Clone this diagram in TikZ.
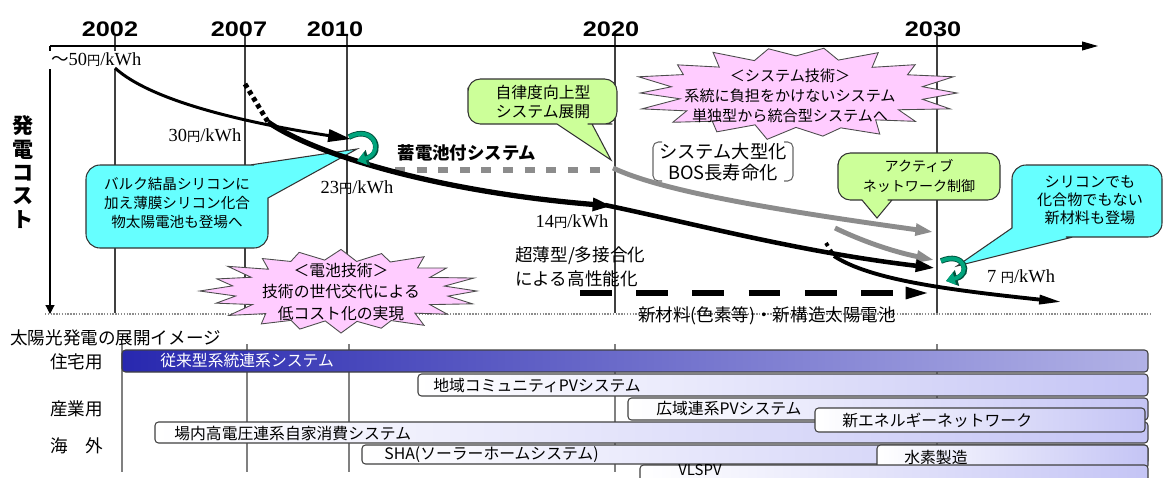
\documentclass[tikz,border=0pt]{standalone}
\usepackage{fontspec}
\usepackage{graphicx}
\setmainfont{Liberation Serif}
\newfontfamily\jp{Noto Sans CJK JP}
\newfontfamily\sansf{Liberation Sans}
\usetikzlibrary{arrows.meta,calc}
\definecolor{cyanC}{RGB}{102,255,255}
\definecolor{greenC}{RGB}{204,255,153}
\definecolor{pinkC}{RGB}{255,204,255}
\definecolor{grayL}{RGB}{140,140,140}
\definecolor{tealC}{RGB}{0,165,125}
\definecolor{tealD}{RGB}{0,80,60}
\definecolor{blueL}{RGB}{40,40,175}
\definecolor{blueR}{RGB}{178,178,230}
\definecolor{lavR}{RGB}{196,196,245}
\begin{document}
\begin{tikzpicture}[x=0.02cm,y=-0.02cm,
  yr/.style={font=\sansf\bfseries\fontsize{12}{14}\selectfont, inner sep=0pt},
  jpt/.style={font=\jp, inner sep=0pt, align=center},
  yen/.style={font=\fontsize{10.5}{12}\selectfont, inner sep=0pt},
  axisln/.style={line width=0.6pt, draw=black},
  yrline/.style={line width=0.7pt, draw=black!75},
  lowline/.style={line width=0.9pt, draw=black!50},
  dotln/.style={line width=0.8pt, draw=black!45, dash pattern=on 0.8pt off 0.8pt},
  callbox/.style={draw=black!80, line width=0.6pt},
  bar/.style={draw=black!75, line width=0.6pt, rounded corners=2pt, left color=white, right color=lavR},
  bartxt/.style={font=\jp\fontsize{9}{10}\selectfont, anchor=west, inner sep=0pt},
  burst/.style={draw=black!70, line width=0.5pt, fill=pinkC},
  curlout/.style={draw=tealD, line width=3.2pt, -{Triangle[length=6.5pt,width=9pt]}},
  curl/.style={draw=tealC, line width=2.2pt, -{Triangle[length=5pt,width=7pt]}},
  blk/.style={draw=black},
  gry/.style={draw=grayL},
]
\useasboundingbox (0,0) rectangle (1165,477);
\clip (0,0) rectangle (1165,477);

% ---------- year labels and grid ----------
\node[yr] (y2002) at (110,29) {\scalebox{1.2}[1]{2002}};
\node[yr] (y2007) at (239,29) {\scalebox{1.2}[1]{2007}};
\node[yr] (y2010) at (335,29) {\scalebox{1.2}[1]{2010}};
\node[yr] (y2020) at (611,29) {\scalebox{1.2}[1]{2020}};
\node[yr] (y2030) at (933,29) {\scalebox{1.2}[1]{2030}};

\foreach \n/\x in {2002/115,2007/245,2010/347,2020/615,2030/937}{
  \coordinate (t\n) at (\x,36);
  \coordinate (b\n) at (\x,313);
  \draw[yrline] (t\n) -- (b\n);
}
\foreach \n/\x in {1/122,2/247,3/349,4/615,5/937}{
  \coordinate (lt\n) at (\x,344);
  \coordinate (lb\n) at (\x,472);
  \draw[lowline] (lt\n) -- (lb\n);
}

\coordinate (O) at (50,46);
\coordinate (xend) at (1098,46);
\coordinate (yend) at (50,314);
\draw[axisln, -{Triangle[length=9pt,width=5pt]}] (O) -- (xend);
\draw[axisln, -{Triangle[length=5pt,width=5pt]}] (O) -- (yend);
\coordinate (dl0) at (45,314);
\coordinate (dl1) at (1151,314);
\draw[dotln] (dl0) -- (dl1);

% ---------- axis texts ----------
\node[jpt, anchor=west, fill=white, inner sep=1pt] (c50) at (49,60)
  {{\jp\fontsize{10}{12}\selectfont ～}{\rmfamily\fontsize{10.5}{12}\selectfont 50}{\jp\fontsize{7.5}{9}\selectfont 円}{\rmfamily\fontsize{10.5}{12}\selectfont /kWh}};
\node[jpt, font=\jp\bfseries\fontsize{12}{13.3}\selectfont] (cost) at (23,172) {発\\電\\コ\\ス\\ト};

% ---------- callouts ----------
\draw[callbox, fill=cyanC, rounded corners=8pt] (86,200) -- (86,165) -- (240,165) [sharp corners] -- (250,165) -- (357,149) -- (268,198) -- (268,205) [rounded corners=8pt] -- (268,248) -- (86,248) -- cycle;
\node[jpt, font=\jp\fontsize{8.3}{11}\selectfont] (bulk) at (177,203) {バルク結晶シリコンに\\加え薄膜シリコン化合\\物太陽電池も登場へ};

\draw[callbox, fill=greenC, rounded corners=7pt] (468,100) -- (468,79) -- (617,79) -- (617,124) -- (600,124) [sharp corners] -- (592,124) -- (611,160) -- (557,124) -- (550,124) [rounded corners=7pt] -- (468,124) -- cycle;
\node[jpt, font=\jp\fontsize{9}{10.8}\selectfont] (jiritsu) at (543,102) {自律度向上型\\システム展開};

\draw[callbox, fill=greenC, rounded corners=7pt] (838,176) -- (838,153) -- (1000,153) -- (1000,200) -- (900,200) [sharp corners] -- (892,200) -- (877,218) -- (862,200) -- (855,200) [rounded corners=7pt] -- (838,200) -- cycle;
\node[jpt, font=\jp\fontsize{8}{11.3}\selectfont] (active) at (919,176) {アクティブ\\ネットワーク制御};

\draw[callbox, fill=cyanC, rounded corners=8pt] (1162,200) -- (1162,237) -- (1080,237) [sharp corners] -- (1073,237) -- (957,266) -- (1012,228) -- (1012,220) [rounded corners=8pt] -- (1012,165) -- (1162,165) -- cycle;
\node[jpt, font=\jp\fontsize{8.6}{10.2}\selectfont] (newmat) at (1090,200) {シリコンでも\\化合物でもない\\新材料も登場};

% bracket box
\draw[line width=0.6pt, draw=black!60, rounded corners=3pt] (662,142) -- (653,142) -- (653,181) -- (662,181);
\draw[line width=0.6pt, draw=black!60, rounded corners=3pt] (784,142) -- (793,142) -- (793,181) -- (784,181);
\node[jpt, font=\jp\fontsize{10.4}{12}\selectfont] (large) at (723,162) {システム大型化\\BOS長寿命化};

% ---------- starbursts ----------
\draw[burst] plot[variable=\k, samples at={0,1,...,35}]
  ({796+166*(isodd(\k) ? (0.75+0.04*cos(\k*53)) : (0.97+0.04*sin(\k*77)))*cos(\k*10)},
   {93+47*(isodd(\k) ? (0.75+0.04*cos(\k*53)) : (0.97+0.04*sin(\k*77)))*sin(\k*10)}) -- cycle;
\node[jpt, font=\jp\fontsize{8.6}{11.3}\selectfont] (systech) at (790,96) {＜システム技術＞\\系統に負担をかけないシステム\\単独型から統合型システムへ};

\draw[burst] plot[variable=\k, samples at={0,1,...,39}]
  ({341+140*(isodd(\k) ? (0.75+0.04*cos(\k*53)) : (0.97+0.04*sin(\k*77)))*cos(\k*9)},
   {291+42*(isodd(\k) ? (0.75+0.04*cos(\k*53)) : (0.97+0.04*sin(\k*77)))*sin(\k*9)}) -- cycle;
\node[jpt, font=\jp\fontsize{9}{12}\selectfont] (celltech) at (341,292) {＜電池技術＞\\技術の世代交代による\\低コスト化の実現};

% ---------- cost curves ----------
\coordinate (a0) at (115,68);  \coordinate (a1) at (351,139);
\coordinate (b0) at (245,84);  \coordinate (b1) at (268,122); \coordinate (b2) at (612,206);
\coordinate (c0) at (605,205); \coordinate (c1) at (935,268);
\coordinate (d0) at (826,243); \coordinate (d1) at (834,256); \coordinate (d2) at (1062,302);
\coordinate (e0) at (395,170); \coordinate (e1) at (607,170);
\coordinate (f0) at (613,168); \coordinate (f1) at (933,232);
\coordinate (g0) at (835,228); \coordinate (g1) at (934,260);
\coordinate (h0) at (580,293); \coordinate (h1) at (932,293);

\draw[gry, line width=3.4pt, dash pattern=on 5.7pt off 6.6pt] (e0) -- (e1);
\draw[gry, line width=2.8pt, -{Triangle[length=10pt,width=6.5pt]}] (f0) .. controls (660,190) and (760,208) .. (f1);
\draw[gry, line width=2.8pt, -{Triangle[length=10pt,width=6.5pt]}] (g0) .. controls (860,240) and (890,251) .. (g1);

\draw[blk, line width=1.7pt, -{Triangle[length=13pt,width=7pt]}] (a0) .. controls (150,100) and (240,122) .. (a1);
\draw[blk, line width=2.8pt, dash pattern=on 2.5pt off 2pt] (b0) -- (b1);
\draw[blk, line width=3pt, -{Triangle[length=11pt,width=7pt]}] (b1) .. controls (315,155) and (440,192) .. (b2);
\draw[blk, line width=2.6pt, -{Triangle[length=11pt,width=6.5pt]}] (c0) .. controls (700,225) and (800,252) .. (c1);
\draw[blk, line width=2.2pt, dash pattern=on 2pt off 2.5pt] (d0) -- (d1);
\draw[blk, line width=2.2pt, -{Triangle[length=13pt,width=5pt]}] (d1) .. controls (870,280) and (950,290) .. (d2);
\draw[blk, line width=3.4pt, dash pattern=on 18pt off 14pt, -{Triangle[length=15pt,width=6pt]}] (h0) -- (h1);

% curls
\coordinate (k1s) at (349,137); \coordinate (k1e) at (357,161);
\draw[curlout] (k1s) .. controls (374,124) and (385,153) .. (k1e);
\draw[curl] (k1s) .. controls (374,124) and (385,153) .. (k1e);
\coordinate (k2s) at (941,261); \coordinate (k2e) at (946,281);
\draw[curlout] (k2s) .. controls (964,251) and (972,274) .. (k2e);
\draw[curl] (k2s) .. controls (964,251) and (972,274) .. (k2e);

% ---------- cost labels ----------
\node[yen] (c30) at (205,136) {30{\jp\fontsize{7.5}{9}\selectfont 円}/kWh};
\node[yen] (c23) at (357,188) {23{\jp\fontsize{7.5}{9}\selectfont 円}/kWh};
\node[yen] (c14) at (572,222) {14{\jp\fontsize{7.5}{9}\selectfont 円}/kWh};
\node[yen] (c7) at (1021,277) {7 {\jp\fontsize{7.5}{9}\selectfont 円}/kWh};
\node[jpt, font=\jp\bfseries\fontsize{9.9}{12}\selectfont] (storage) at (467,153) {蓄電池付システム};
\node[jpt, anchor=north west, align=left, font=\jp\fontsize{10}{14}\selectfont] (thin) at (515,246) {超薄型/多接合化\\による高性能化};
\node[jpt, font=\jp\fontsize{10}{12}\selectfont] (dye) at (767,316) {新材料(色素等)・新構造太陽電池};

% ---------- lower section ----------
\node[jpt, anchor=west, font=\jp\fontsize{10}{12}\selectfont] (image) at (10,338) {太陽光発電の展開イメージ};
\node[jpt, anchor=west, font=\jp\fontsize{10}{12}\selectfont] (home) at (50,362) {住宅用};
\node[jpt, anchor=west, font=\jp\fontsize{10}{12}\selectfont] (indus) at (50,409) {産業用};
\node[jpt, anchor=west, font=\jp\fontsize{10}{12}\selectfont] (abroad) at (50,446) {海　外};

\draw[bar, left color=blueL, right color=blueR] (122,350) rectangle (1148,372);
\node[bartxt, text=white] (bar1) at (160,361) {従来型系統連系システム};
\draw[bar] (418,374) rectangle (1148,396);
\node[bartxt] (bar2) at (433,385) {地域コミュニティPVシステム};
\draw[bar] (628,398) rectangle (1148,420);
\node[bartxt] (bar3) at (656,409) {広域連系PVシステム};
\draw[bar] (155,422) rectangle (1148,443);
\node[bartxt] (bar5) at (174,433) {場内高電圧連系自家消費システム};
\draw[bar] (815,408) rectangle (1145,432);
\node[bartxt] (bar4) at (842,420) {新エネルギーネットワーク};
\draw[bar] (362,445) rectangle (1148,464);
\node[bartxt] (bar6) at (384,455) {SHA(ソーラーホームシステム)};
\draw[bar] (877,445) rectangle (1148,469);
\node[bartxt] (bar7) at (904,457) {水素製造};
\draw[bar] (640,465) rectangle (1148,495);
\node[bartxt, font=\jp\fontsize{8.5}{9}\selectfont] (bar8) at (678,470.5) {VLSPV};
\end{tikzpicture}
\end{document}
